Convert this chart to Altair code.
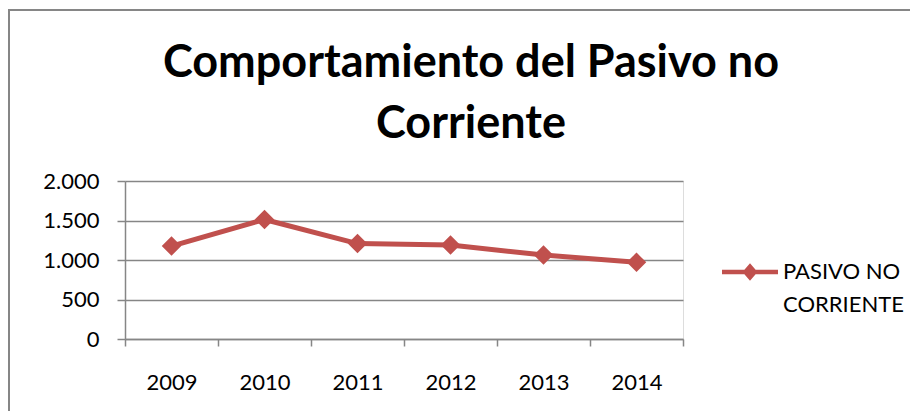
import altair as alt
import pandas as pd

# ---- data ----
years = ["2009", "2010", "2011", "2012", "2013", "2014"]
values = [1176, 1513, 1208, 1189, 1063, 971]
series_name = "PASIVO NO CORRIENTE"
y_ticks = [0, 500, 1000, 1500, 2000]
title_lines = ["Comportamiento del Pasivo no", "Corriente"]

df = pd.DataFrame({"year": years, "value": values, "serie": [series_name] * len(years)})

FONT = "Lato"
RED = "#C0504D"
GRAY = "#868686"

# legend symbol: short thick line with a diamond, drawn in unit square
legend_path = ("M-1,-0.08L1,-0.08L1,0.08L-1,0.08Z "
               "M0,-0.31L0.27,0L0,0.31L-0.27,0Z")

x_enc = alt.X(
    "year:N",
    sort=years,
    scale=alt.Scale(type="band", paddingInner=0, paddingOuter=0),
    axis=alt.Axis(
        title=None, labelAngle=0, tickBand="extent", grid=False,
        domainColor=GRAY, domainWidth=1.5, tickColor=GRAY, tickWidth=1.5, tickSize=7,
        labelPadding=26, labelFont=FONT, labelFontSize=22, labelColor="black",
        labelBaseline="top",
    ),
)
y_enc = alt.Y(
    "value:Q",
    scale=alt.Scale(domain=[0, 2000], nice=False),
    axis=alt.Axis(
        title=None, values=y_ticks,
        labelExpr="replace(format(datum.value, ','), ',', '.')",
        domainColor=GRAY, domainWidth=1.5, tickColor=GRAY, tickWidth=1.5, tickSize=8,
        gridColor=GRAY, gridWidth=1.5, labelPadding=18,
        labelFont=FONT, labelFontSize=22, labelColor="black",
    ),
)

base = alt.Chart(df)

line = base.mark_line(color=RED, strokeWidth=5, strokeJoin="round").encode(x=x_enc, y=y_enc)

points = base.mark_point(shape="diamond", size=380, filled=True, opacity=1).encode(
    x=x_enc,
    y=y_enc,
    color=alt.Color(
        "serie:N",
        scale=alt.Scale(range=[RED]),
        legend=alt.Legend(
            title=None, orient="none", legendX=597, legendY=63, padding=0,
            symbolType=legend_path, symbolSize=3136, symbolStrokeWidth=0,
            symbolOpacity=1,
            labelFont=FONT, labelFontSize=22, labelColor="black", labelOffset=5,
            labelLimit=0,
            labelExpr="[substring(datum.label, 0, lastindexof(datum.label, ' ')), "
                      "substring(datum.label, lastindexof(datum.label, ' ') + 1)]",
        ),
    ),
)

border = alt.Chart(pd.DataFrame({"k": [0]})).mark_rect(
    fillOpacity=0, stroke=GRAY, strokeWidth=2
).encode(
    x=alt.value(-116), x2=alt.value(803), y=alt.value(-171), y2=alt.value(248)
)

chart = (
    alt.layer(border, line, points)
    .properties(
        width=558,
        height=158,
        padding={"left": 117, "top": 173, "right": 227, "bottom": 72},
        autosize=alt.AutoSizeParams(type="none"),
        title=alt.Title(
            text=title_lines, font=FONT, fontSize=45, fontWeight="bold", color="black",
            lineHeight=61, anchor="middle", dx=67, offset=-138,
        ),
    )
    .configure_view(stroke=None)
    .configure(style={"guide-label": {"lineHeight": 33}})
)

chart.save("out.html", embed_options={"renderer": "svg", "actions": False})
